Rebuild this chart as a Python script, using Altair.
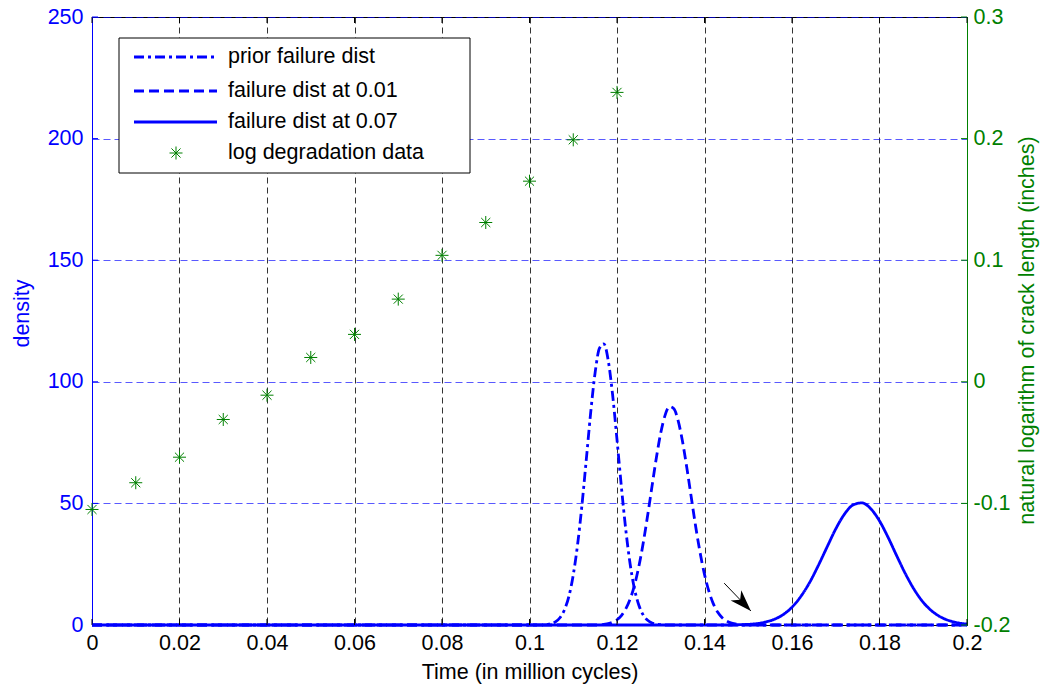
import altair as alt
import pandas as pd

# ---------------- data ----------------
x_ticks = [0, 0.02, 0.04, 0.06, 0.08, 0.1, 0.12, 0.14, 0.16, 0.18, 0.2]
density_ticks = [0, 50, 100, 150, 200, 250]
log_ticks = [-0.2, -0.1, 0, 0.1, 0.2, 0.3]

prior_x = [0.0, 0.103, 0.104, 0.105, 0.106, 0.107, 0.108, 0.109, 0.110, 0.111, 0.112,
           0.113, 0.114, 0.115, 0.116, 0.117, 0.118, 0.119, 0.120, 0.121, 0.122,
           0.123, 0.124, 0.125, 0.126, 0.127, 0.128, 0.129, 0.130, 0.131, 0.2]
prior_y = [0.0, 0.0, 0.23, 0.59, 1.41, 3.1, 6.3, 11.7, 20.6, 33.2, 49.5,
           68.4, 87.6, 103.8, 113.8, 115.6, 108.7, 94.6, 76.2, 56.9, 39.3,
           25.1, 14.8, 8.1, 4.1, 1.94, 0.85, 0.34, 0.13, 0.0, 0.0]

dist01_x = [0.0, 0.116, 0.117, 0.118, 0.119, 0.120, 0.121, 0.122, 0.123, 0.124, 0.125,
            0.126, 0.127, 0.128, 0.129, 0.130, 0.131, 0.132, 0.133, 0.134, 0.135,
            0.136, 0.137, 0.138, 0.139, 0.140, 0.141, 0.142, 0.143, 0.144, 0.145,
            0.146, 0.147, 0.148, 0.149, 0.2]
dist01_y = [0.0, 0.0, 0.28, 0.58, 1.14, 2.16, 3.9, 6.6, 10.6, 16.4, 24.1,
            33.8, 45.0, 57.0, 68.8, 79.0, 86.3, 89.8, 88.9, 83.8, 75.2,
            64.2, 52.2, 40.3, 29.7, 20.8, 13.9, 8.8, 5.3, 3.06, 1.68,
            0.88, 0.44, 0.2, 0.0, 0.0]

dist07_x = [0.0, 0.146, 0.148, 0.150, 0.152, 0.154, 0.156, 0.158, 0.160, 0.162, 0.164,
            0.166, 0.168, 0.170, 0.172, 0.174, 0.176, 0.178, 0.180, 0.182, 0.184,
            0.186, 0.188, 0.190, 0.192, 0.194, 0.196, 0.198, 0.200]
dist07_y = [0.0, 0.0, 0.12, 0.27, 0.60, 1.24, 2.39, 4.3, 7.3, 11.7, 17.4,
            24.4, 32.0, 39.5, 45.6, 49.4, 50.2, 47.8, 42.8, 35.9, 28.2,
            20.8, 14.4, 9.3, 5.7, 3.25, 1.75, 0.88, 0.41]

data_time = [0, 0.01, 0.02, 0.03, 0.04, 0.05, 0.06, 0.07, 0.08, 0.09, 0.10, 0.11, 0.12]
log_crack = [-0.105, -0.083, -0.062, -0.031, -0.011, 0.020, 0.039, 0.068,
             0.104, 0.131, 0.165, 0.199, 0.238]

arrow_x = [0.1445, 0.1506]
arrow_y = [17.2, 5.8]

series_names = ["prior failure dist", "failure dist at 0.01", "failure dist at 0.07"]
series_dash = [[10, 4, 3, 4], [10, 5], [1, 0]]

# ---------------- styles ----------------
BLUE = "#0000ff"
GREEN = "#008000"
FONT = "Liberation Sans"
FS = 21.5
LW = 2.8

curves = pd.concat([
    pd.DataFrame({"time": prior_x, "density": prior_y, "series": series_names[0]}),
    pd.DataFrame({"time": dist01_x, "density": dist01_y, "series": series_names[1]}),
    pd.DataFrame({"time": dist07_x, "density": dist07_y, "series": series_names[2]}),
])

x_enc = alt.X(
    "time:Q",
    scale=alt.Scale(domain=[0, 0.2], nice=False, zero=False),
    axis=alt.Axis(values=x_ticks, format=".2~f", title="Time (in million cycles)",
                  grid=True, gridColor="#333333", gridDash=[6, 4], gridWidth=1,
                  ticks=False, domainColor="black", domainWidth=1,
                  labelColor="black", labelFontSize=FS, labelFont=FONT,
                  titleFont=FONT, titleFontSize=FS, titleFontWeight="normal",
                  titleColor="black", labelPadding=7, titlePadding=8,
                  labelFlush=False, labelOverlap=False),
)

y_left = alt.Y(
    "density:Q",
    scale=alt.Scale(domain=[0, 250], nice=False),
    axis=alt.Axis(values=density_ticks, format="d", title="density",
                  grid=True, gridColor=BLUE, gridOpacity=0.65, gridDash=[7, 4], gridWidth=1,
                  ticks=False, domainColor=BLUE, domainWidth=1,
                  labelColor=BLUE, labelFontSize=FS, labelFont=FONT,
                  titleFont=FONT, titleFontSize=FS, titleFontWeight="normal",
                  titleColor=BLUE, labelPadding=9, titlePadding=14, titleY=296,
                  labelFlush=False, labelOverlap=False),
)

y_right = alt.Y(
    "logc:Q",
    scale=alt.Scale(domain=[-0.2, 0.3], nice=False, zero=False),
    axis=alt.Axis(orient="right", values=log_ticks,
                  labelExpr="datum.value == 0 ? '0' : (datum.value < 0 ? '-' + format(-datum.value, '.1f') : format(datum.value, '.1f'))",
                  title="natural logarithm of crack length (inches)",
                  grid=False, ticks=False, domainColor=GREEN, domainWidth=1,
                  labelColor=GREEN, labelFontSize=FS, labelFont=FONT,
                  titleFont=FONT, titleFontSize=FS, titleFontWeight="normal",
                  titleColor=GREEN, titleAngle=270, titleBaseline="top",
                  labelPadding=6, titlePadding=6, titleY=313,
                  labelFlush=False, labelOverlap=False),
)

lines = alt.Chart(curves).mark_line(color=BLUE, strokeWidth=LW, interpolate="monotone").encode(
    x=x_enc,
    y=y_left,
    strokeDash=alt.StrokeDash("series:N", scale=alt.Scale(domain=series_names, range=series_dash), legend=None),
    detail="series:N",
)

xt = pd.DataFrame({"time": x_ticks})
yt = pd.DataFrame({"density": density_ticks})
tick_bottom = alt.Chart(xt).mark_rule(color="black", strokeWidth=1).encode(
    x=x_enc, y=alt.value(602), y2=alt.value(608))
tick_top = alt.Chart(xt).mark_rule(color="black", strokeWidth=1).encode(
    x=x_enc, y=alt.value(0), y2=alt.value(6))
tick_left = alt.Chart(yt).mark_rule(color=BLUE, strokeWidth=1).encode(
    y=y_left, x=alt.value(0), x2=alt.value(6))
tick_right = alt.Chart(yt).mark_rule(color=GREEN, strokeWidth=1).encode(
    y=y_left, x=alt.value(869), x2=alt.value(875))

arrow_df = pd.DataFrame({"time": [arrow_x[0]], "density": [arrow_y[0]],
                         "time2": [arrow_x[1]], "density2": [arrow_y[1]]})
arrow_line = alt.Chart(arrow_df).mark_rule(color="black", strokeWidth=1).encode(
    x=x_enc, y=y_left, x2="time2:Q", y2="density2:Q")
arrow_head = alt.Chart(pd.DataFrame({"time": [arrow_x[1]], "density": [arrow_y[1]]})).mark_point(
    shape="M0,0L0.55,1.6L0,1.15L-0.55,1.6Z", filled=True, color="black", opacity=1,
    size=720, angle=136, strokeWidth=0).encode(x=x_enc, y=y_left)

inner = alt.layer(lines, tick_bottom, tick_top, tick_left, tick_right, arrow_line, arrow_head)

STAR = "M0,-1L0,1M-1,0L1,0M-0.7,-0.7L0.7,0.7M-0.7,0.7L0.7,-0.7"
stars = alt.Chart(pd.DataFrame({"time": data_time, "logc": log_crack})).mark_point(
    shape=STAR, filled=False, color=GREEN, size=169, strokeWidth=1, opacity=1).encode(
    x=x_enc, y=y_right)

# ---------------- manual legend ----------------
one = pd.DataFrame({"k": [0]})
legend_box = alt.Chart(one).mark_rect(fill="white", stroke="black", strokeWidth=1).encode(
    x=alt.value(27), x2=alt.value(378), y=alt.value(21), y2=alt.value(156))
row_y = [40, 74, 105, 136]
legend_layers = [legend_box]
for i in range(3):
    legend_layers.append(
        alt.Chart(one).mark_rule(color=BLUE, strokeWidth=LW, strokeDash=series_dash[i]).encode(
            x=alt.value(42), x2=alt.value(125), y=alt.value(row_y[i])))
legend_layers.append(
    alt.Chart(one).mark_point(shape=STAR, filled=False, color=GREEN, size=169, strokeWidth=1, opacity=1).encode(
        x=alt.value(84), y=alt.value(row_y[3])))
legend_labels = series_names + ["log degradation data"]
for i, lab in enumerate(legend_labels):
    legend_layers.append(
        alt.Chart(one).mark_text(align="left", baseline="middle", font=FONT, fontSize=FS, color="black").encode(
            x=alt.value(136), y=alt.value(row_y[i]), text=alt.value(lab)))

chart = alt.layer(inner, stars, *legend_layers).resolve_scale(y="independent").properties(
    width=875, height=608,
    autosize=alt.AutoSizeParams(type="none"),
    padding={"left": 92, "top": 17, "right": 77, "bottom": 60},
    background="white",
).configure_view(stroke="black", strokeWidth=1)

chart.save("out.html", embed_options={"renderer": "svg", "actions": False})
